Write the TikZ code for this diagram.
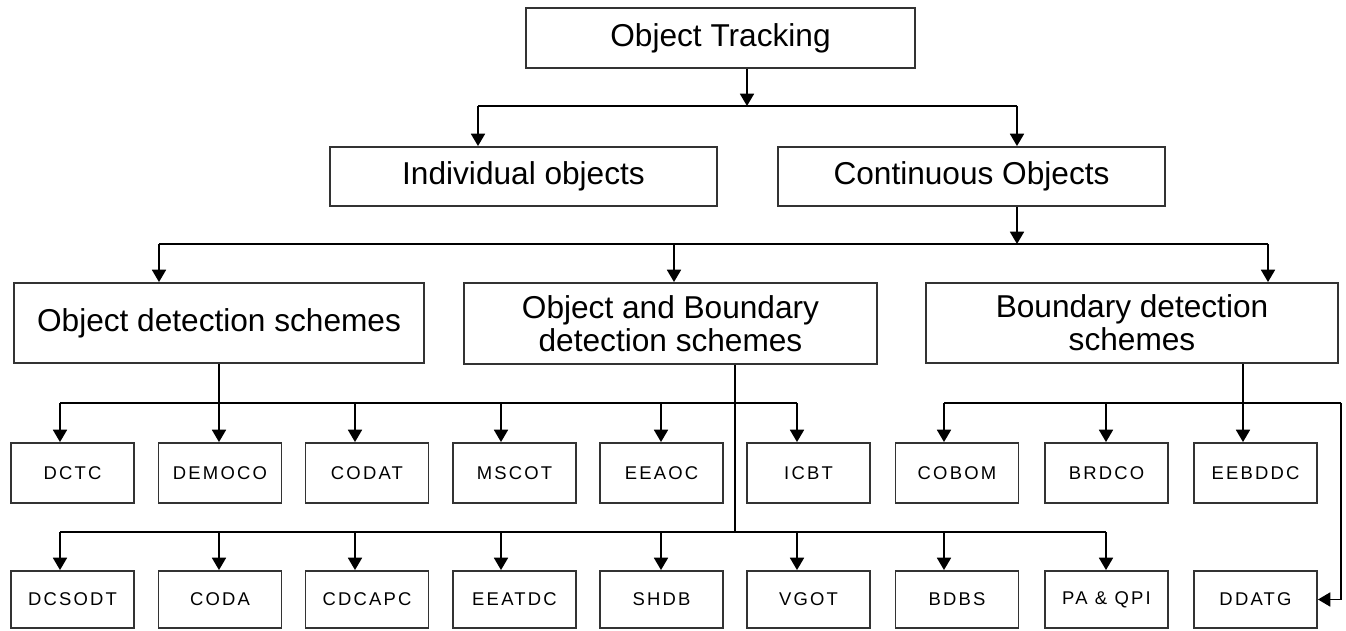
\documentclass[tikz,border=0pt]{standalone}
\usepackage{fontspec}
\setmainfont{Liberation Sans}
\usetikzlibrary{arrows.meta}

\tikzset{
  bigbox/.style={draw=black!80, line width=1.1pt, align=center, inner sep=0pt,
    font=\fontsize{18}{19}\selectfont},
  smallbox/.style={draw=black!80, line width=1.1pt, inner sep=0pt,
    minimum width=2.46cm, minimum height=1.2cm,
    font=\fontsize{10.5}{12}\selectfont\addfontfeature{LetterSpace=12}},
  lowbox/.style={smallbox, minimum height=1.14cm},
  link/.style={line width=0.85pt},
  arr/.style={link, -{Triangle[length=7pt,width=8pt]}}
}

\begin{document}
\begin{tikzpicture}[x=0.02cm, y=-0.02cm]
  \useasboundingbox (0,0) rectangle (1346,631);

  \node [bigbox, minimum width=7.78cm, minimum height=1.2cm] (track) at (720.5,38) {Object Tracking};
  \node [bigbox, minimum width=7.74cm, minimum height=1.18cm] (indiv) at (523.5,176.5) {Individual objects};
  \node [bigbox, minimum width=7.74cm, minimum height=1.18cm] (cont) at (971.5,176.5) {Continuous Objects};
  \node [bigbox, minimum width=8.22cm, minimum height=1.6cm] (ods) at (219,323) {Object detection schemes};
  \node [bigbox, minimum width=8.26cm, minimum height=1.62cm] (obds) at (670.5,323.5) {Object and Boundary\\detection schemes};
  \node [bigbox, minimum width=8.24cm, minimum height=1.6cm] (bds) at (1132,323) {Boundary detection\\schemes};

  \node [smallbox] (dctc) at (72.5,473) {DCTC};
  \node [smallbox] (democo) at (220,473) {DEMOCO};
  \node [smallbox] (codat) at (367,473) {CODAT};
  \node [smallbox] (mscot) at (514.5,473) {MSCOT};
  \node [smallbox] (eeaoc) at (661.5,473) {EEAOC};
  \node [smallbox] (icbt) at (808.5,473) {ICBT};
  \node [smallbox] (cobom) at (957,473) {COBOM};
  \node [smallbox] (brdco) at (1106.5,473) {BRDCO};
  \node [smallbox] (eebddc) at (1255.5,473) {EEBDDC};

  \node [lowbox] (dcsodt) at (72.5,599.5) {DCSODT};
  \node [lowbox] (coda) at (220,599.5) {CODA};
  \node [lowbox] (cdcapc) at (367,599.5) {CDCAPC};
  \node [lowbox] (eeatdc) at (514.5,599.5) {EEATDC};
  \node [lowbox] (shdb) at (661.5,599.5) {SHDB};
  \node [lowbox] (vgot) at (808.5,599.5) {VGOT};
  \node [lowbox] (bdbs) at (957,599.5) {BDBS};
  \node [lowbox] (paqpi) at (1106.5,599.5) {PA \& QPI};
  \node [lowbox] (ddatg) at (1255.5,599.5) {DDATG};

  \coordinate (t1) at (747,106);
  \coordinate (b1l) at (478,106);
  \coordinate (b1r) at (1017,106);
  \draw [arr] (t1 |- track.south) -- (t1);
  \draw [link] (b1l) -- (b1r);
  \draw [arr] (b1l) -- (b1l |- indiv.north);
  \draw [arr] (b1r) -- (b1r |- cont.north);

  \coordinate (c1) at (1017,244);
  \coordinate (b2l) at (159,244);
  \coordinate (b2m) at (674,244);
  \coordinate (b2r) at (1268,244);
  \draw [arr] (c1 |- cont.south) -- (c1);
  \draw [link] (b2l) -- (b2r);
  \draw [arr] (b2l) -- (b2l |- ods.north);
  \draw [arr] (b2m) -- (b2m |- obds.north);
  \draw [arr] (b2r) -- (b2r |- bds.north);

  \coordinate (r1a) at (60,403);
  \coordinate (r1c) at (355,403);
  \coordinate (r1d) at (501,403);
  \coordinate (r1e) at (661,403);
  \coordinate (r1f) at (797,403);
  \draw [arr] (ods.south) -- (ods.south |- democo.north);
  \draw [link] (r1a) -- (r1f);
  \draw [arr] (r1a) -- (r1a |- dctc.north);
  \draw [arr] (r1c) -- (r1c |- codat.north);
  \draw [arr] (r1d) -- (r1d |- mscot.north);
  \draw [arr] (r1e) -- (r1e |- eeaoc.north);
  \draw [arr] (r1f) -- (r1f |- icbt.north);

  \coordinate (o1) at (735,532);
  \coordinate (r2a) at (60,532);
  \coordinate (r2b) at (219,532);
  \coordinate (r2c) at (355,532);
  \coordinate (r2d) at (501,532);
  \coordinate (r2e) at (661,532);
  \coordinate (r2f) at (797,532);
  \coordinate (r2g) at (944,532);
  \coordinate (r2h) at (1106,532);
  \draw [link] (o1 |- obds.south) -- (o1);
  \draw [link] (r2a) -- (r2h);
  \draw [arr] (r2a) -- (r2a |- dcsodt.north);
  \draw [arr] (r2b) -- (r2b |- coda.north);
  \draw [arr] (r2c) -- (r2c |- cdcapc.north);
  \draw [arr] (r2d) -- (r2d |- eeatdc.north);
  \draw [arr] (r2e) -- (r2e |- shdb.north);
  \draw [arr] (r2f) -- (r2f |- vgot.north);
  \draw [arr] (r2g) -- (r2g |- bdbs.north);
  \draw [arr] (r2h) -- (r2h |- paqpi.north);

  \coordinate (q1) at (1243,403);
  \coordinate (r3a) at (944,403);
  \coordinate (r3b) at (1106,403);
  \coordinate (r3c) at (1341,403);
  \draw [arr] (q1 |- bds.south) -- (q1 |- eebddc.north);
  \draw [link] (r3a) -- (r3c);
  \draw [arr] (r3a) -- (r3a |- cobom.north);
  \draw [arr] (r3b) -- (r3b |- brdco.north);
  \draw [arr] (r3c) |- (ddatg.east);
\end{tikzpicture}
\end{document}
